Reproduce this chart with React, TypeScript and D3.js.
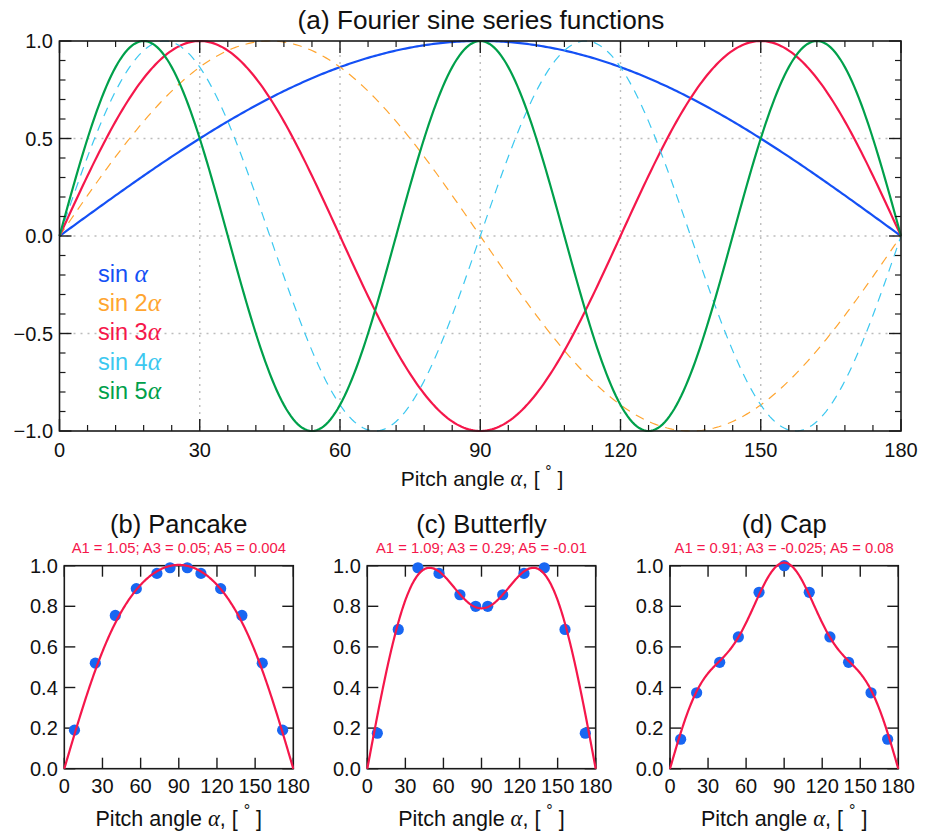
import React from "react";
import * as d3 from "d3";

// ---------- data ----------
const harmonics = [1, 2, 3, 4, 5];
const legendLabels = ["sin ", "sin 2", "sin 3", "sin 4", "sin 5"];
const topXTicks = [0, 30, 60, 90, 120, 150, 180];
const topYTicks = [-1.0, -0.5, 0.0, 0.5, 1.0];
const bottomXTicks = [0, 30, 60, 90, 120, 150, 180];
const bottomYTicks = [0.0, 0.2, 0.4, 0.6, 0.8, 1.0];

const panelTitles = ["(b) Pancake", "(c) Butterfly", "(d) Cap"];
const panelCoefLabels = [
  "A1 = 1.05; A3 = 0.05; A5 = 0.004",
  "A1 = 1.09; A3 = 0.29; A5 = -0.01",
  "A1 = 0.91; A3 = -0.025; A5 = 0.08",
];
// coefficients A1, A3, A5
const pancakeCoefs = [1.05, 0.05, 0.004];
const butterflyCoefs = [1.09, 0.29, -0.01];
const capCoefs = [0.91, -0.025, 0.08];
const fitHarmonics = [1, 3, 5];

const pancakeAngles = [8, 24.4, 40.1, 56.6, 72.8, 83.1, 96.7, 107.4, 122.9, 139.6, 155.6, 171.6];
const pancakeValues = [0.19, 0.52, 0.755, 0.887, 0.962, 0.99, 0.99, 0.962, 0.887, 0.755, 0.52, 0.19];
const butterflyAngles = [7.9, 24.4, 39.9, 56.5, 73.0, 85.4, 94.9, 106.7, 123.5, 139.5, 155.8, 171.8];
const butterflyValues = [0.175, 0.686, 0.99, 0.962, 0.857, 0.8, 0.8, 0.857, 0.962, 0.99, 0.686, 0.175];
const capAngles = [8.4, 21.0, 39.2, 53.9, 70.2, 90.1, 109.8, 126.1, 140.8, 158.5, 171.6];
const capValues = [0.145, 0.374, 0.524, 0.649, 0.869, 1.0, 0.869, 0.649, 0.524, 0.374, 0.145];

// ---------- styles ----------
const FONT = "'Liberation Sans', Arial, Helvetica, sans-serif";
const GREEK = "'Liberation Serif', 'DejaVu Serif', serif";
const seriesColors = ["#1450F5", "#FFA530", "#F5174B", "#3CC8F0", "#00A04B"];
const seriesDashed = [false, true, false, true, false];
const FIT_COLOR = "#F5174B";
const DOT_COLOR = "#1866F2";
const AXIS = "#1a1a1a";

const W = 931;
const H = 836;

const sampleAngles = d3.range(0, 180.001, 0.5);
const rad = (deg: number) => (deg * Math.PI) / 180;

function AxisLabel({ x, y, size }: { x: number; y: number; size: number }) {
  return (
    <text x={x} y={y} textAnchor="middle" fontFamily={FONT} fontSize={size} fill="#111">
      Pitch angle{" "}
      <tspan fontFamily={GREEK} fontStyle="italic" fontSize={size * 1.05}>
        α
      </tspan>
      , [{" "}
      <tspan fontSize={size * 0.75} dy={-size * 0.45}>
        °
      </tspan>
      <tspan dy={size * 0.45}> ]</tspan>
    </text>
  );
}

function TopPanel() {
  const x = d3.scaleLinear().domain([0, 180]).range([59.5, 901]);
  const y = d3.scaleLinear().domain([-1, 1]).range([431, 41]);
  const [x0, x1] = x.range();
  const [y0, y1] = y.range();
  const minorX = d3.range(0, 181, 6).filter((v) => v % 30 !== 0);
  const minorY = d3.range(-10, 11, 1).map((v) => v / 10).filter((v) => Math.abs((v * 10) % 5) > 1e-6);
  const gridX = topXTicks.filter((v) => v > 0 && v < 180);
  const gridY = topYTicks.filter((v) => v > -1 && v < 1);
  const line = d3
    .line<number>()
    .x((a) => x(a));
  const MAJ = 12;
  const MIN = 6;
  return (
    <g>
      <text x={481} y={29} textAnchor="middle" fontFamily={FONT} fontSize={26.2} fill="#111">
        (a) Fourier sine series functions
      </text>
      {/* grid */}
      {gridX.map((v) => (
        <line key={"gx" + v} x1={x(v)} x2={x(v)} y1={y1} y2={y0} stroke="#bdbdbd" strokeWidth={1.4} strokeDasharray="2,5" />
      ))}
      {gridY.map((v) => (
        <line key={"gy" + v} x1={x0} x2={x1} y1={y(v)} y2={y(v)} stroke="#bdbdbd" strokeWidth={1.4} strokeDasharray="2,5" />
      ))}
      {/* curves */}
      {harmonics.map((n, i) => (
        <path
          key={"c" + n}
          d={line.y((a) => y(Math.sin(n * rad(a))))(sampleAngles) || ""}
          fill="none"
          stroke={seriesColors[i]}
          strokeWidth={seriesDashed[i] ? 1.2 : 2.2}
          strokeDasharray={seriesDashed[i] ? "9,7" : undefined}
        />
      ))}
      {/* frame */}
      <rect x={x0} y={y1} width={x1 - x0} height={y0 - y1} fill="none" stroke={AXIS} strokeWidth={1.6} />
      {/* ticks */}
      {topXTicks.map((v) => (
        <g key={"tx" + v}>
          <line x1={x(v)} x2={x(v)} y1={y0} y2={y0 - MAJ} stroke={AXIS} strokeWidth={1.4} />
          <line x1={x(v)} x2={x(v)} y1={y1} y2={y1 + MAJ} stroke={AXIS} strokeWidth={1.4} />
        </g>
      ))}
      {minorX.map((v) => (
        <g key={"mx" + v}>
          <line x1={x(v)} x2={x(v)} y1={y0} y2={y0 - MIN} stroke={AXIS} strokeWidth={1.2} />
          <line x1={x(v)} x2={x(v)} y1={y1} y2={y1 + MIN} stroke={AXIS} strokeWidth={1.2} />
        </g>
      ))}
      {topYTicks.map((v) => (
        <g key={"ty" + v}>
          <line x1={x0} x2={x0 + MAJ} y1={y(v)} y2={y(v)} stroke={AXIS} strokeWidth={1.4} />
          <line x1={x1} x2={x1 - MAJ} y1={y(v)} y2={y(v)} stroke={AXIS} strokeWidth={1.4} />
        </g>
      ))}
      {minorY.map((v) => (
        <g key={"my" + v}>
          <line x1={x0} x2={x0 + MIN} y1={y(v)} y2={y(v)} stroke={AXIS} strokeWidth={1.2} />
          <line x1={x1} x2={x1 - MIN} y1={y(v)} y2={y(v)} stroke={AXIS} strokeWidth={1.2} />
        </g>
      ))}
      {/* tick labels */}
      {topXTicks.map((v) => (
        <text key={"lx" + v} x={x(v)} y={457} textAnchor="middle" fontFamily={FONT} fontSize={20} fill="#111">
          {v}
        </text>
      ))}
      {topYTicks.map((v) => (
        <text key={"ly" + v} x={53} y={y(v) + 7} textAnchor="end" fontFamily={FONT} fontSize={20} fill="#111">
          {d3.format(".1f")(v).replace("-", "\u2212")}
        </text>
      ))}
      <AxisLabel x={482} y={486} size={21} />
      {/* legend */}
      {legendLabels.map((lab, i) => (
        <text key={"lg" + i} x={98} y={282 + i * 29.2} fontFamily={FONT} fontSize={23.5} fill={seriesColors[i]}>
          {lab}
          <tspan fontFamily={GREEK} fontStyle="italic" fontSize={25.5}>
            α
          </tspan>
        </text>
      ))}
    </g>
  );
}

function BottomPanel({
  left,
  right,
  title,
  coefLabel,
  coefs,
  angles,
  values,
}: {
  left: number;
  right: number;
  title: string;
  coefLabel: string;
  coefs: number[];
  angles: number[];
  values: number[];
}) {
  const x = d3.scaleLinear().domain([0, 180]).range([left, right]);
  const y = d3.scaleLinear().domain([0, 1]).range([768.7, 565.7]);
  const [y0, y1] = y.range();
  const cx = (left + right) / 2;
  const fit = (a: number) => d3.sum(fitHarmonics, (n, k) => coefs[k] * Math.sin(n * rad(a)));
  const path = d3
    .line<number>()
    .x((a) => x(a))
    .y((a) => y(fit(a)))(sampleAngles);
  const T = 11;
  return (
    <g>
      <text x={cx} y={533} textAnchor="middle" fontFamily={FONT} fontSize={25.5} fill="#111">
        {title}
      </text>
      <text x={cx} y={552.5} textAnchor="middle" fontFamily={FONT} fontSize={14.8} fill={FIT_COLOR}>
        {coefLabel}
      </text>
      <rect x={left} y={y1} width={right - left} height={y0 - y1} fill="none" stroke={AXIS} strokeWidth={1.6} />
      {bottomXTicks.map((v) => (
        <g key={"tx" + v}>
          <line x1={x(v)} x2={x(v)} y1={y0} y2={y0 - T} stroke={AXIS} strokeWidth={1.4} />
          <line x1={x(v)} x2={x(v)} y1={y1} y2={y1 + T} stroke={AXIS} strokeWidth={1.4} />
          <text x={x(v)} y={793} textAnchor="middle" fontFamily={FONT} fontSize={20} fill="#111">
            {v}
          </text>
        </g>
      ))}
      {bottomYTicks.map((v) => (
        <g key={"ty" + v}>
          <line x1={left} x2={left + T} y1={y(v)} y2={y(v)} stroke={AXIS} strokeWidth={1.4} />
          <line x1={right} x2={right - T} y1={y(v)} y2={y(v)} stroke={AXIS} strokeWidth={1.4} />
          <text x={left - 6.5} y={y(v) + 7} textAnchor="end" fontFamily={FONT} fontSize={20} fill="#111">
            {d3.format(".1f")(v)}
          </text>
        </g>
      ))}
      {angles.map((a, i) => (
        <circle key={"d" + i} cx={x(a)} cy={y(values[i])} r={5.6} fill={DOT_COLOR} />
      ))}
      <path d={path || ""} fill="none" stroke={FIT_COLOR} strokeWidth={2.2} />
      <AxisLabel x={cx} y={826} size={21.5} />
    </g>
  );
}

export default function App() {
  const panels = [
    { left: 64.3, right: 293.3, coefs: pancakeCoefs, angles: pancakeAngles, values: pancakeValues },
    { left: 367.3, right: 595.7, coefs: butterflyCoefs, angles: butterflyAngles, values: butterflyValues },
    { left: 670, right: 898.3, coefs: capCoefs, angles: capAngles, values: capValues },
  ];
  return (
    <svg
      width={W}
      height={H}
      viewBox={`0 0 ${W} ${H}`}
      style={{ position: "absolute", left: 0, top: 0, background: "#fff" }}
    >
      <rect x={0} y={0} width={W} height={H} fill="#fff" />
      <TopPanel />
      {panels.map((p, i) => (
        <BottomPanel
          key={i}
          left={p.left}
          right={p.right}
          title={panelTitles[i]}
          coefLabel={panelCoefLabels[i]}
          coefs={p.coefs}
          angles={p.angles}
          values={p.values}
        />
      ))}
    </svg>
  );
}
